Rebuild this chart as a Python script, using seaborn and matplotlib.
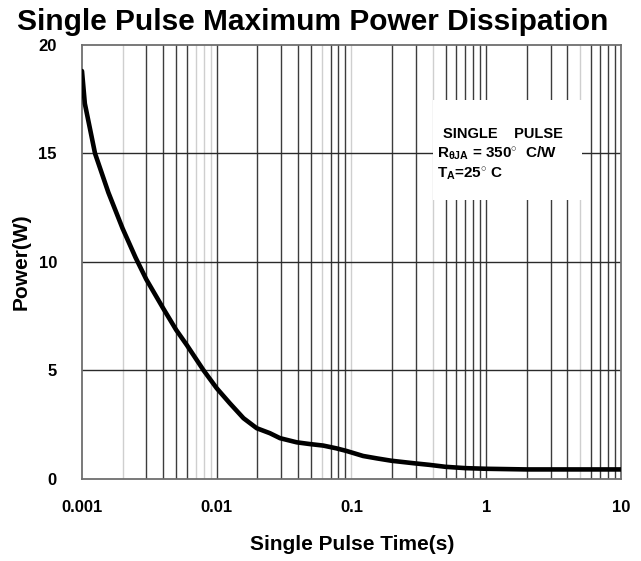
import numpy as np
import pandas as pd
import seaborn as sns
import matplotlib.pyplot as plt
from matplotlib.patches import Rectangle

sns.set_style("white")
plt.rcParams['font.family'] = ['Liberation Sans', 'DejaVu Sans']
plt.rcParams['text.color'] = 'black'
plt.rcParams['axes.labelcolor'] = 'black'
plt.rcParams['xtick.color'] = 'black'
plt.rcParams['ytick.color'] = 'black'
plt.rcParams['mathtext.fontset'] = 'custom'
plt.rcParams['mathtext.rm'] = 'Liberation Sans:bold'
plt.rcParams['mathtext.bf'] = 'Liberation Sans:bold'
plt.rcParams['mathtext.it'] = 'Liberation Sans:bold'

# curve
pulse_time = [0.001, 0.00105, 0.00125, 0.00157, 0.002, 0.0025, 0.003, 0.004, 0.005,
              0.006, 0.008, 0.01, 0.0125, 0.0158, 0.0198, 0.0248, 0.0295, 0.0392,
              0.049, 0.0616, 0.0775, 0.092, 0.122, 0.154, 0.198, 0.295, 0.38,
              0.5, 0.7, 1.0, 2.0, 5.0, 10.0]
power = [18.8, 17.3, 15.0, 13.2, 11.55, 10.2, 9.2, 7.87, 6.87,
         6.17, 5.0, 4.18, 3.49, 2.80, 2.34, 2.11, 1.88, 1.69,
         1.61, 1.54, 1.41, 1.29, 1.06, 0.95, 0.84, 0.72, 0.65,
         0.56, 0.50, 0.47, 0.44, 0.44, 0.44]

dark_grid = [0.003, 0.004, 0.005, 0.006, 0.01, 0.02, 0.03, 0.04, 0.05,
             0.07, 0.08, 0.09, 0.2, 0.3, 0.5, 0.6, 0.7, 0.8, 0.9, 1,
             2, 3, 4, 6, 7, 8, 9]
light_grid = [0.002, 0.007, 0.008, 0.009, 0.06, 0.1, 0.4, 5]
y_ticks = [0, 5, 10, 15, 20]
x_ticks = [0.001, 0.01, 0.1, 1, 10]
x_ticklabels = ["0.001", "0.01", "0.1", "1", "10"]

df = pd.DataFrame({"time": pulse_time, "power": power})

fig = plt.figure(figsize=(6.41, 5.61), dpi=100)
ax = fig.add_axes([0.1279, 0.1462, 0.8409, 0.7736])

for t in light_grid:
    ax.axvline(t, color="#cfcfcf", lw=1.0, zorder=1)
for t in dark_grid:
    ax.axvline(t, color="#3c3c3c", lw=1.0, zorder=1)
for v in y_ticks[1:-1]:
    ax.axhline(v, color="#2a2a2a", lw=1.0, zorder=1)

sns.lineplot(data=df, x="time", y="power", ax=ax, color="black", lw=3.3, zorder=5)

ax.set_xscale("log")
ax.set_xlim(0.001, 10)
ax.set_ylim(0, 20)
ax.set_xticks(x_ticks)
ax.set_xticklabels(x_ticklabels)
ax.xaxis.set_minor_locator(plt.NullLocator())
ax.set_yticks(y_ticks)
ax.tick_params(length=0, labelsize=12, pad=15)
ax.tick_params(axis="y", pad=18)
for lab in ax.get_xticklabels() + ax.get_yticklabels():
    lab.set_fontweight("bold")

for sp in ax.spines.values():
    sp.set_color("#6e6e6e")
    sp.set_linewidth(1.3)

ax.set_xlabel("Single Pulse Time(s)", fontsize=15, fontweight="bold")
ax.set_ylabel("Power(W)", fontsize=15, fontweight="bold")
ax.xaxis.set_label_coords(0.501, -0.150)
ax.xaxis.label.set_va("center")
ax.yaxis.set_label_coords(-0.113, 0.5)
ax.yaxis.label.set_va("center")

# white box for the conditions note
ax.add_patch(Rectangle((0.651, 0.643), 0.277, 0.230, transform=ax.transAxes,
                       facecolor="white", edgecolor="none", zorder=3))
ax.text(0.669, 0.795, "SINGLE    PULSE", transform=ax.transAxes, fontsize=10.5,
        fontweight="bold", va="center", ha="left", zorder=4)
ax.text(0.659, 0.751, r"R$_{\theta JA}$ = 350$^{\circ}$  C/W", transform=ax.transAxes,
        fontsize=11, fontweight="bold", va="center", ha="left", zorder=4)
ax.text(0.659, 0.703, r"T$_{A}$=25$^{\circ}$ C", transform=ax.transAxes,
        fontsize=11, fontweight="bold", va="center", ha="left", zorder=4)

fig.text(0.488, 0.946, "Single Pulse Maximum Power Dissipation", fontsize=21.5,
         fontweight="bold", ha="center", va="baseline")

fig.savefig("out.png", dpi=100)
